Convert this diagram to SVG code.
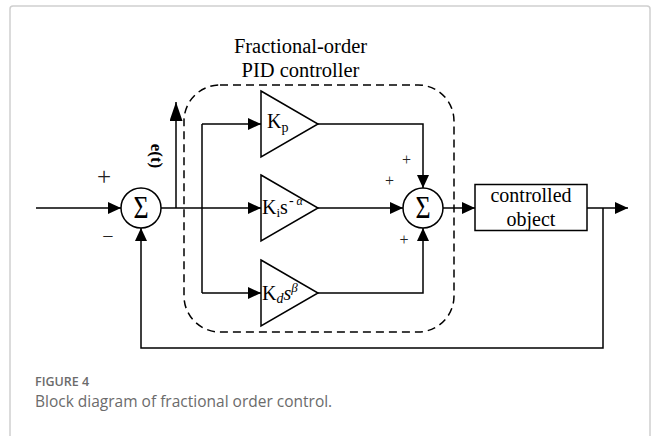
<svg xmlns="http://www.w3.org/2000/svg" width="654" height="436" viewBox="0 0 654 436">
  <style>
    .ln { fill: none; stroke: #000; stroke-width: 1.5; }
    .blk { fill: #fff; stroke: #000; stroke-width: 1.5; }
    .serif { font-family: "Liberation Serif", "Times New Roman", serif; fill: #000; }
    .sigma { font-family: "Liberation Serif", "Times New Roman", serif; fill: #000; font-size: 26px; }
    .sign { font-family: "Liberation Serif", serif; fill: #222; }
    .cap { font-family: "Open Sans", "Liberation Sans", sans-serif; fill: #6b6b6b; }
  </style>
  <defs>
    <marker id="arr" viewBox="0 0 13 12" refX="13" refY="6" markerWidth="13" markerHeight="12" markerUnits="userSpaceOnUse" orient="auto">
      <path d="M0,0 L13,6 L0,12 Z" fill="#000"/>
    </marker>
    <marker id="arrBig" viewBox="0 0 19 13" refX="19" refY="6.5" markerWidth="19" markerHeight="13" markerUnits="userSpaceOnUse" orient="auto">
      <path d="M0,0 L19,6.5 L0,13 Z" fill="#000"/>
    </marker>
  </defs>

  <rect width="654" height="436" fill="#fff"/>
  <rect x="10" y="6" width="640" height="450" rx="3" fill="none" stroke="#cfcfcf" stroke-width="1.5"/>

  <g id="controller-boundary">
    <rect x="184" y="85" width="270" height="247" rx="36" fill="none" stroke="#000" stroke-width="1.5" stroke-dasharray="8,5"/>
    <text class="serif" x="300.5" y="53" font-size="20.5" text-anchor="middle">Fractional-order</text>
    <text class="serif" x="300.5" y="77" font-size="20.5" text-anchor="middle">PID controller</text>
  </g>

  <g id="connectors">
    <path class="ln" d="M36,208 L121,208" marker-end="url(#arr)"/>
    <path class="ln" d="M161,208 L261,208" marker-end="url(#arr)"/>
    <path class="ln" d="M176,208 L176,102" marker-end="url(#arrBig)"/>
    <path class="ln" d="M202,124 L202,293"/>
    <path class="ln" d="M202,124 L261,124" marker-end="url(#arr)"/>
    <path class="ln" d="M202,293 L261,293" marker-end="url(#arr)"/>
    <path class="ln" d="M318,124 L423,124 L423,188" marker-end="url(#arr)"/>
    <path class="ln" d="M318,208 L403,208" marker-end="url(#arr)"/>
    <path class="ln" d="M318,293 L423,293 L423,228" marker-end="url(#arr)"/>
    <path class="ln" d="M443,208 L475,208" marker-end="url(#arr)"/>
    <path class="ln" d="M587,208 L628,208" marker-end="url(#arr)"/>
    <path class="ln" d="M603,208 L603,348 L141,348 L141,228" marker-end="url(#arr)"/>
    <text class="serif" transform="translate(150.5,156) rotate(90)" x="0" y="0" font-size="17" font-weight="bold" text-anchor="middle">e(t)</text>
  </g>

  <g id="sum1">
    <circle class="blk" cx="141" cy="208" r="20"/>
    <text class="sigma" transform="translate(141,208) scale(1,1.2)" x="0" y="8.6" text-anchor="middle">Σ</text>
    <text class="sign" x="104" y="185" font-size="25" text-anchor="middle">+</text>
    <text class="sign" x="108" y="243" font-size="20" text-anchor="middle">−</text>
  </g>

  <g id="kp">
    <path class="blk" d="M261,91 L318,124 L261,157 Z"/>
    <text class="serif" x="267" y="128" font-size="20">K<tspan font-size="14" dy="4">p</tspan></text>
  </g>

  <g id="ki">
    <path class="blk" d="M261,175 L318,208 L261,241 Z"/>
    <text class="serif" x="262" y="214" font-size="20">K<tspan font-size="13" dy="3">i</tspan><tspan dy="-3">s</tspan><tspan font-size="14" dy="-9" dx="1">-</tspan><tspan font-size="12" dx="3" font-style="italic">α</tspan></text>
  </g>

  <g id="kd">
    <path class="blk" d="M261,260 L318,293 L261,326 Z"/>
    <text class="serif" x="262" y="300" font-size="20">K<tspan font-size="14" dy="3" font-style="italic">d</tspan><tspan dy="-3" font-style="italic">s</tspan><tspan font-size="13" dy="-8" font-style="italic">β</tspan></text>
  </g>

  <g id="sum2">
    <circle class="blk" cx="423" cy="208" r="20"/>
    <text class="sigma" transform="translate(423,208) scale(1,1.2)" x="0" y="8.6" text-anchor="middle">Σ</text>
    <text class="sign" x="406.5" y="164.5" font-size="16" text-anchor="middle">+</text>
    <text class="sign" x="389.5" y="186" font-size="16" text-anchor="middle">+</text>
    <text class="sign" x="404" y="244.5" font-size="16" text-anchor="middle">+</text>
  </g>

  <g id="plant">
    <rect class="blk" x="475" y="184.5" width="112" height="46"/>
    <text class="serif" x="531" y="201.5" font-size="20" text-anchor="middle">controlled</text>
    <text class="serif" x="531" y="225.5" font-size="20" text-anchor="middle">object</text>
  </g>

  <g id="caption">
    <text class="cap" x="35" y="386" font-size="12.5" font-weight="600" fill="#777">FIGURE 4</text>
    <text class="cap" x="35" y="406.5" font-size="15.5">Block diagram of fractional order control.</text>
  </g>
</svg>
